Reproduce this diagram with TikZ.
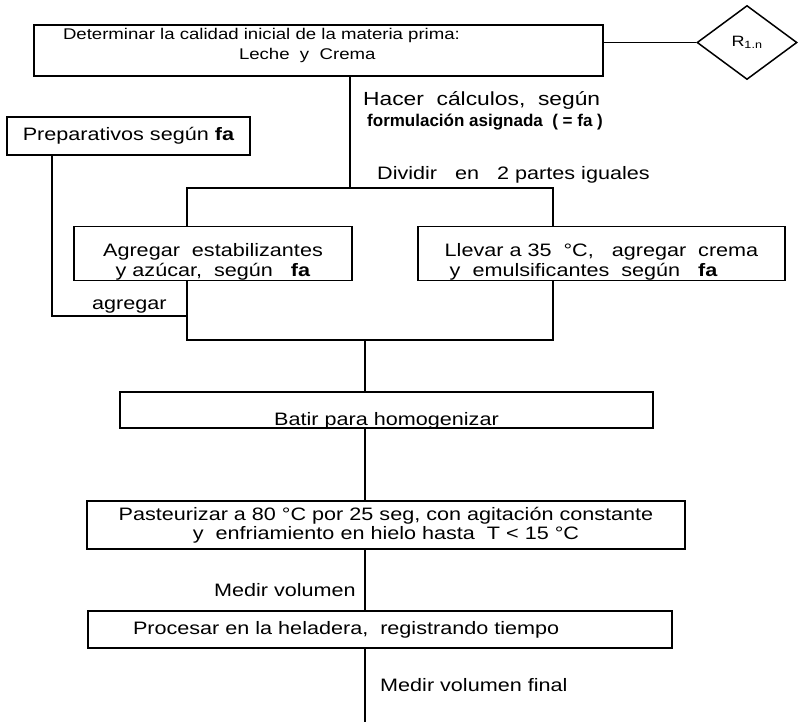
\documentclass[tikz,border=0pt]{standalone}
\usepackage{fontspec}
\setmainfont[FakeStretch=1.2]{Liberation Sans}
\newfontfamily\angosta{Liberation Sans}
\usetikzlibrary{shapes.geometric}

\tikzset{
  caja/.style={draw, line width=1.5pt, inner sep=0pt, align=center,
    font=\fontsize{18}{20}\selectfont},
  rombo/.style={draw, diamond, line width=1.5pt, inner sep=0pt, aspect=1.35,
    minimum width=100pt, minimum height=74pt, font=\fontsize{15}{18}\selectfont},
  etiqueta/.style={inner sep=0pt, font=\fontsize{18}{20}\selectfont},
  linea/.style={line width=1.5pt}
}

\begin{document}
\begin{tikzpicture}[x=1pt, y=-1pt]
  \useasboundingbox (0,0) rectangle (798,724);

  % materia prima y registro
  \node[caja, align=left, text width=511pt, inner xsep=29pt, minimum height=51pt,
    font=\fontsize{15.5}{20}\selectfont] (inicio) at (318.5,50.5)
    {Determinar la calidad inicial de la materia prima:\\\hspace*{176pt}Leche~ y~ Crema\rule[-13pt]{0pt}{13pt}};
  \node[rombo] (reg) at (747,42.5) {R\textsubscript{1.n}};
  \draw[linea] (inicio.east |- reg) -- (reg.west);

  \node[etiqueta, anchor=west, font=\fontsize{19}{20}\selectfont] (calc) at (363,100)
    {Hacer~ cálculos,~ según};
  \node[etiqueta, anchor=west, font=\angosta\bfseries\fontsize{17}{18}\selectfont] (form) at (367,122)
    {formulación asignada~ ( = fa )};

  \node[caja, minimum width=243pt, minimum height=38pt] (prep) at (128.5,136)
    {Preparativos según \textbf{fa}};

  % division en dos partes
  \coordinate (d) at (350,188);
  \coordinate (izq) at (187,188);
  \coordinate (der) at (553,188);
  \coordinate (izqb) at (187,340);
  \coordinate (derb) at (553,340);
  \coordinate (pl) at (52,316);
  \coordinate (m) at (365,340);
  \coordinate (fin) at (365,722);

  \node[etiqueta, anchor=west] (div) at (377,175) {Dividir~~ en~~ 2 partes iguales};

  \node[caja, minimum width=278pt, minimum height=49pt] (agreg) at (213,253.5)
    {\rule{0pt}{30pt}Agregar~ estabilizantes\\ y azúcar,~ según~~ \textbf{fa}};
  \node[caja, align=left, minimum width=367pt, minimum height=49pt] (llevar) at (601.5,253.5)
    {\rule{0pt}{30pt}Llevar a 35~ °C,~~ agregar~ crema\\\hspace*{5pt}y~ emulsificantes~ según~~ \textbf{fa}};

  \node[etiqueta, anchor=west] (lagr) at (92,307) {agregar};

  \draw[linea] (inicio.south -| d) -- (d);
  \draw[linea] (izq |- agreg.north) -- (izq) -- (der) -- (der |- llevar.north);
  \draw[linea] (agreg.south -| izqb) -- (izqb) -- (derb) -- (llevar.south -| derb);
  \draw[linea] (prep.south -| pl) -- (pl) -- (pl -| izqb);

  % tratamiento de la mezcla
  \node[caja, minimum width=533pt, minimum height=36pt, text height=33pt, text depth=3pt]
    (batir) at (386.5,410) {Batir para homogenizar};
  \node[caja, minimum width=598pt, minimum height=48pt, font=\fontsize{18}{19}\selectfont]
    (past) at (386,525)
    {Pasteurizar a 80 °C por 25 seg, con agitación constante\\ y~ enfriamiento en hielo hasta~ T < 15 °C};
  \node[caja, align=left, text width=494pt, inner xsep=45pt, minimum height=37pt]
    (proc) at (380,629.5) {Procesar en la heladera,~ registrando tiempo};

  \node[etiqueta, anchor=east] (vol) at (356,590) {Medir volumen};
  \node[etiqueta, anchor=west] (volf) at (380,685) {Medir volumen final};

  \draw[linea] (m) -- (m |- batir.north);
  \draw[linea] (batir.south -| m) -- (m |- past.north);
  \draw[linea] (past.south -| m) -- (m |- proc.north);
  \draw[linea] (proc.south -| m) -- (fin);
\end{tikzpicture}
\end{document}
